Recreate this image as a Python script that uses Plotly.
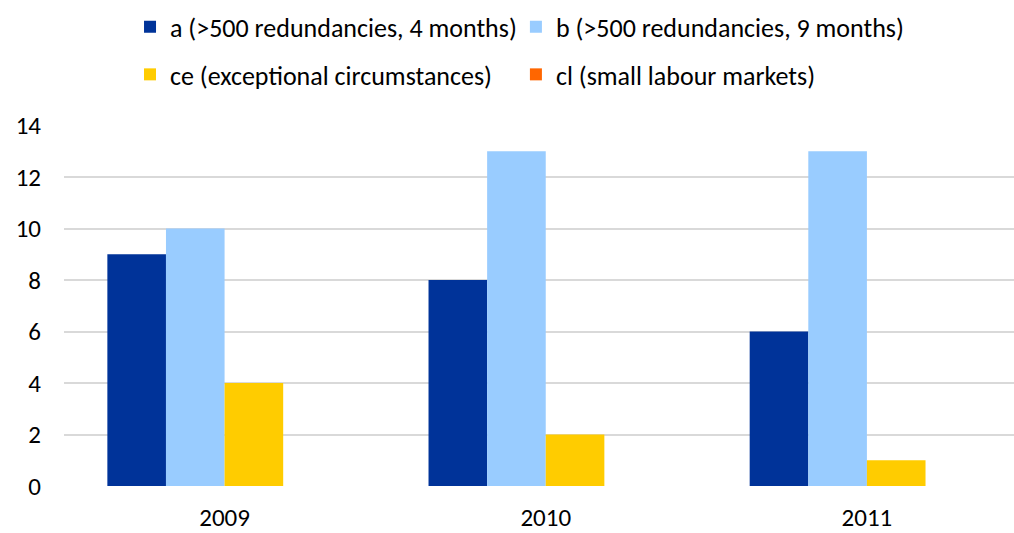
import plotly.graph_objects as go

years = ["2009", "2010", "2011"]
series_names = [
    "a (>500 redundancies, 4 months)",
    "b (>500 redundancies, 9 months)",
    "ce (exceptional circumstances)",
    "cl (small labour markets)",
]
a_vals = [9, 8, 6]
b_vals = [10, 13, 13]
ce_vals = [4, 2, 1]
cl_vals = [0, 0, 0]
colors = ["#003399", "#99CCFF", "#FFCC00", "#FF6600"]
y_ticks = [0, 2, 4, 6, 8, 10, 12, 14]

FONT = "Carlito, Lato, sans-serif"

fig = go.Figure()
all_vals = [a_vals, b_vals, ce_vals, cl_vals]
legends = ["legend", "legend2", "legend3", "legend4"]
for name, vals, col, lg in zip(series_names, all_vals, colors, legends):
    fig.add_trace(go.Bar(x=years, y=vals, name=name, marker_color=col,
                         marker_line_width=0, legend=lg, showlegend=True))

def leg(x, y):
    return dict(orientation="h", x=x, xanchor="left", y=y, yanchor="middle",
                font=dict(size=26), itemwidth=30, bgcolor="rgba(0,0,0,0)",
                visible=True)

fig.update_layout(
    width=1014, height=533,
    margin=dict(l=64, r=0, t=125, b=44),
    showlegend=True,
    plot_bgcolor="white", paper_bgcolor="white",
    barmode="group", bargap=0.27, bargroupgap=0,
    font=dict(family=FONT, size=25, color="#000000"),
    xaxis=dict(type="category", range=[-0.5, 2.458], showgrid=False,
               showline=False, ticks="", tickfont=dict(size=25),
               ticklabelstandoff=14, fixedrange=True),
    yaxis=dict(range=[0, 14.02], tickvals=y_ticks, showgrid=True,
               gridcolor="#D9D9D9", gridwidth=2, zeroline=False,
               showline=False, ticks="", ticklen=0,
               tickfont=dict(size=25), ticklabelstandoff=22, fixedrange=True),
    legend=leg(0.0695, 1.272),
    legend2=leg(0.4757, 1.272),
    legend3=leg(0.0695, 1.140),
    legend4=leg(0.4757, 1.140),
)

fig.write_html("out.html", config={"displayModeBar": False},
               post_script="document.body.style.margin='0';document.body.style.padding='0';")
